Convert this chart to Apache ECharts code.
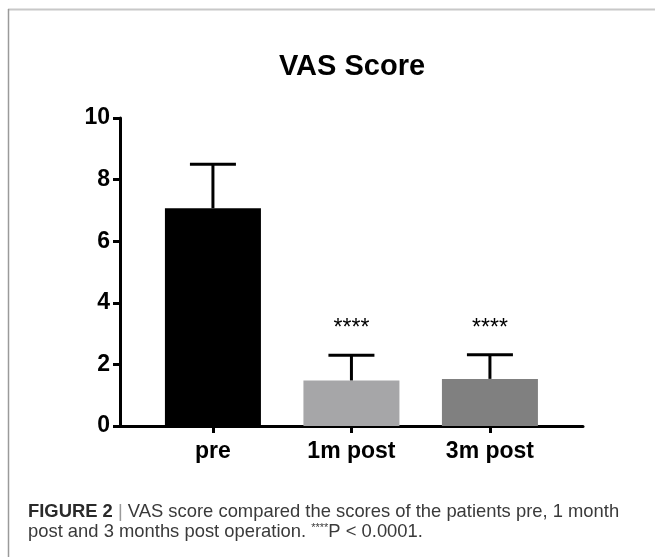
<!DOCTYPE html>
<html>
<head>
<meta charset="utf-8">
<script src="https://cdn.jsdelivr.net/npm/echarts@6/dist/echarts.min.js"></script>
<style>
html, body { margin: 0; padding: 0; background: #fff; }
#chart { width: 655px; height: 557px; }
</style>
</head>
<body>
<div id="chart"></div>
<script>
// data
var categories = ["pre", "1m post", "3m post"];
var means = [7.07, 1.48, 1.53];
var sds = [1.43, 0.82, 0.78];
var sigLabels = ["", "****", "****"];
var barColors = ["#000000", "#a6a6a8", "#808080"];
var yTicks = [0, 2, 4, 6, 8, 10];

var FONT = "'Liberation Sans', Arial, sans-serif";

var chart = echarts.init(document.getElementById("chart"));

var catIdx = categories.map(function (c, i) { return i; });

var option = {
  animation: false,
  backgroundColor: "#fff",
  grid: { left: 120, right: 72, top: 118, bottom: 131 },
  xAxis: {
    type: "value",
    min: -0.671,
    max: 2.672,
    splitLine: { show: false },
    axisLine: { show: true, onZero: false, lineStyle: { color: "#000", width: 3 } },
    axisTick: { show: true, customValues: catIdx, length: 7, lineStyle: { color: "#000", width: 3 } },
    axisLabel: {
      customValues: catIdx,
      margin: 14,
      color: "#000",
      fontFamily: FONT,
      fontWeight: "bold",
      fontSize: 23,
      formatter: function (v) { return categories[Math.round(v)]; }
    }
  },
  yAxis: {
    type: "value",
    min: yTicks[0],
    max: yTicks[yTicks.length - 1],
    interval: yTicks[1] - yTicks[0],
    splitLine: { show: false },
    axisLine: { show: true, onZero: false, lineStyle: { color: "#000", width: 3 } },
    axisTick: { show: true, length: 7, lineStyle: { color: "#000", width: 3 } },
    axisLabel: {
      margin: 10,
      color: "#000",
      fontFamily: FONT,
      fontWeight: "bold",
      fontSize: 23
    }
  },
  series: [
    {
      type: "bar",
      barWidth: 96,
      data: categories.map(function (c, i) {
        return { value: [i, means[i]], itemStyle: { color: barColors[i] } };
      })
    },
    {
      // error bars (mean + SD) with significance stars
      type: "custom",
      data: categories.map(function (c, i) { return [i, means[i], means[i] + sds[i]]; }),
      renderItem: function (params, api) {
        var i = api.value(0);
        var base = api.coord([i, api.value(1)]);
        var top = api.coord([i, api.value(2)]);
        var half = 23;
        return {
          type: "group",
          children: [
            { type: "line", shape: { x1: base[0], y1: base[1], x2: top[0], y2: top[1] },
              style: { stroke: "#000", lineWidth: 3 } },
            { type: "line", shape: { x1: top[0] - half, y1: top[1], x2: top[0] + half, y2: top[1] },
              style: { stroke: "#000", lineWidth: 3 } },
            { type: "text", x: top[0], y: top[1] - 15,
              style: { text: sigLabels[params.dataIndex], fill: "#000", font: "23px " + FONT,
                       align: "center", verticalAlign: "bottom" } }
          ]
        };
      },
      z: 3
    }
  ],
  graphic: [
    { type: "line", shape: { x1: 8, y1: 9.5, x2: 655, y2: 9.5 }, style: { stroke: "#c8c8c8", lineWidth: 2 } },
    { type: "line", shape: { x1: 8.5, y1: 9, x2: 8.5, y2: 557 }, style: { stroke: "#9a9a9a", lineWidth: 1.5 } },
    { type: "text", x: 352, y: 67,
      style: { text: "VAS Score", font: "bold 29px " + FONT, fill: "#000",
               align: "center", verticalAlign: "middle" } },
    { type: "text", x: 28, y: 512,
      style: {
        text: "{b|FIGURE 2} {s||} VAS score compared the scores of the patients pre, 1 month",
        font: "18.4px " + FONT, fill: "#3a3a3a", verticalAlign: "middle",
        rich: {
          b: { font: "bold 18.4px " + FONT, fill: "#2a2a2a" },
          s: { font: "18.4px " + FONT, fill: "#9a9a9a" }
        }
      } },
    { type: "text", x: 28, y: 532,
      style: {
        text: "post and 3 months post operation. {sup|****}P < 0.0001.",
        font: "18.4px " + FONT, fill: "#3a3a3a", verticalAlign: "middle",
        rich: { sup: { font: "11px " + FONT, fill: "#3a3a3a", verticalAlign: "top", padding: [0, 0, 8, 0] } }
      } }
  ]
};

chart.setOption(option);
</script>
</body>
</html>
